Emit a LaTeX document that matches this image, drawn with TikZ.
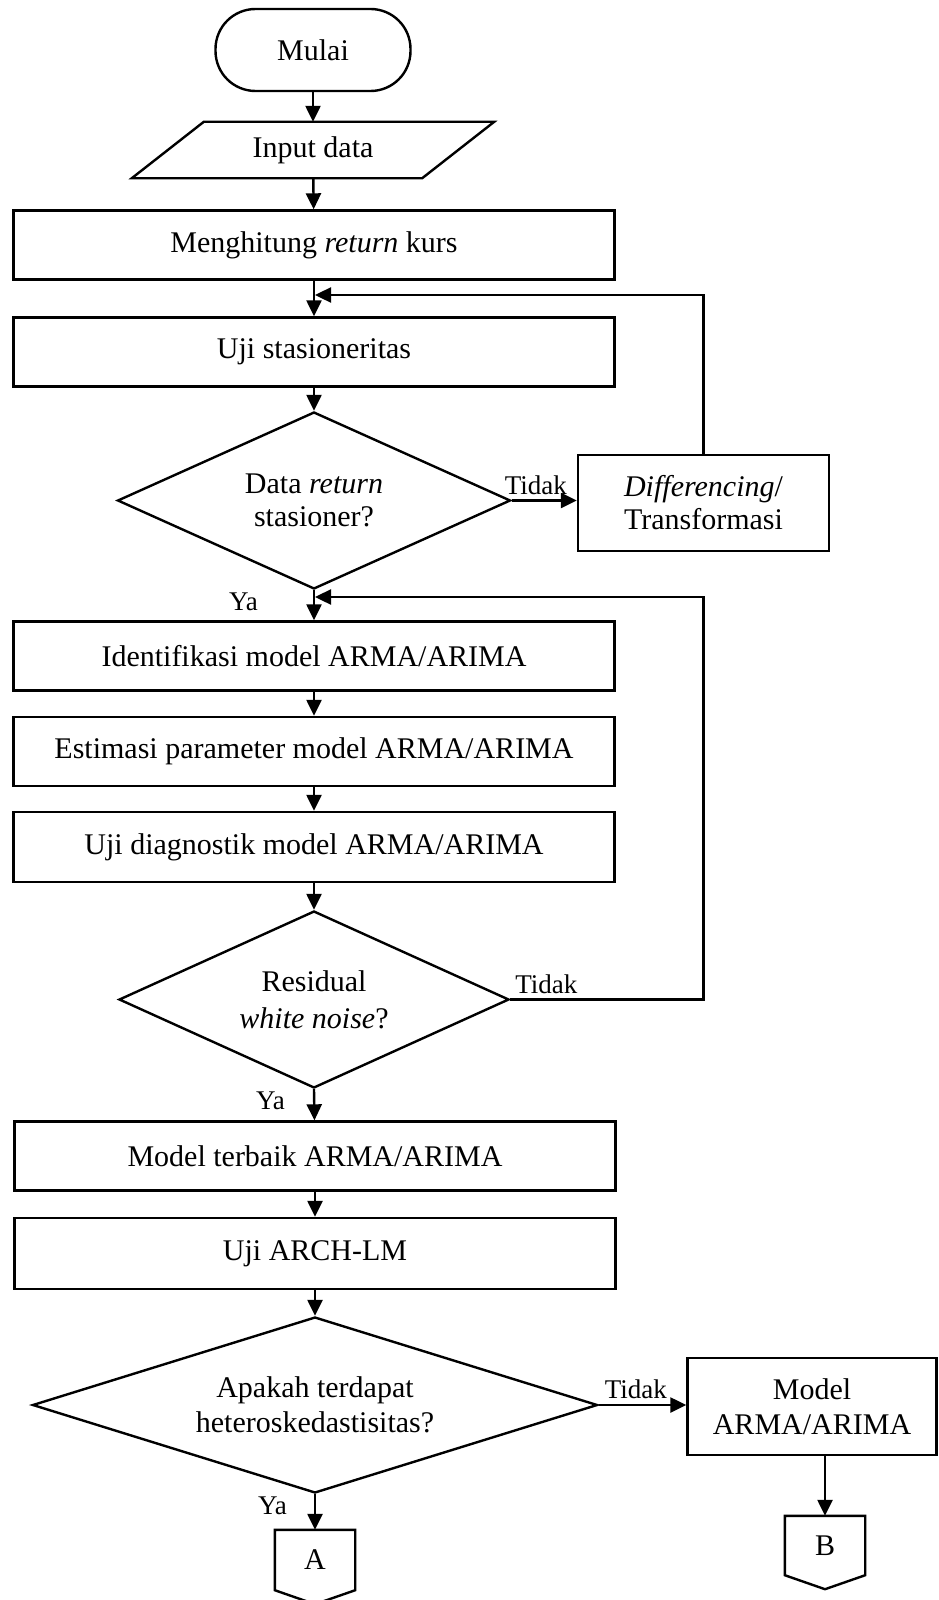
\documentclass[tikz,border=0pt]{standalone}
\usepackage{fontspec}
\setmainfont{Liberation Serif}
\usetikzlibrary{shapes.geometric,arrows.meta}

\tikzset{
  txt/.style={font=\fontsize{30}{33}\selectfont},
  proc/.style={txt, draw, line width=2.4pt, minimum width=601pt, minimum height=69pt, inner sep=0pt, align=center},
  decision/.style={txt, draw, diamond, line width=2.4pt, inner sep=0pt, align=center, shape aspect=2.2},
  flow/.style={line width=2.4pt, -{Triangle[length=16pt,width=15pt]}},
  lbl/.style={font=\fontsize{27}{30}\selectfont, inner sep=1pt},
}

\begin{document}
\begin{tikzpicture}[x=1pt,y=-1pt]
\useasboundingbox (0,0) rectangle (938,1600);

% main column
\node[txt, draw, line width=2.4pt, rounded corners=40pt, minimum width=195pt, minimum height=82pt] (mulai) at (313,50) {Mulai};
\node[txt, minimum width=290pt, minimum height=56pt, inner sep=0pt] (input) at (313,150) {Input data};
\draw[line width=2.4pt] ([xshift=36pt]input.north west) -- ([xshift=36pt]input.north east)
  -- ([xshift=-36pt]input.south east) -- ([xshift=-36pt]input.south west) -- cycle;
\node[proc] (hitung) at (314,245) {Menghitung \textit{return} kurs};
\node[proc] (uji) at (314,352) {Uji stasioneritas};
\node[decision, minimum width=393pt, minimum height=177pt] (stasioner) at (314,500.5) {Data \textit{return}\\stasioner?};
\node[proc, minimum width=251pt, minimum height=96pt] (diff) at (703.5,503) {\textit{Differencing}/\\Transformasi};
\node[proc] (ident) at (314,656) {Identifikasi model ARMA/ARIMA};
\node[proc] (estim) at (314,751.5) {Estimasi parameter model ARMA/ARIMA};
\node[proc, minimum height=70pt] (diag) at (314,847) {Uji diagnostik model ARMA/ARIMA};
\node[decision, minimum width=390pt, minimum height=177pt] (wn) at (314,999.5) {Residual\\[4pt]\textit{white noise}?};
\node[proc] (terbaik) at (315,1156) {Model terbaik ARMA/ARIMA};
\node[proc, minimum height=71pt] (arch) at (315,1253.5) {Uji ARCH-LM};
\node[decision, shape aspect=3.2, minimum width=565pt, minimum height=176pt] (hetero) at (315,1405) {Apakah terdapat\\[2pt]heteroskedastisitas?};
\node[proc, minimum width=249pt, minimum height=97pt] (model) at (812,1406.5) {Model\\[2pt]ARMA/ARIMA};

% off-page connectors
\node[txt, minimum width=80pt, minimum height=60pt, inner sep=0pt] (conA) at (315,1560) {A};
\draw[line width=2.4pt] (conA.north west) -- (conA.north east) -- (conA.south east)
  -- ([yshift=-14pt]conA.south) -- (conA.south west) -- cycle;
\node[txt, minimum width=80pt, minimum height=59pt, inner sep=0pt] (conB) at (825,1545.5) {B};
\draw[line width=2.4pt] (conB.north west) -- (conB.north east) -- (conB.south east)
  -- ([yshift=-14pt]conB.south) -- (conB.south west) -- cycle;

\coordinate (fb1) at (315,295);
\coordinate (fb2) at (315,597);

% arrows
\draw[flow] (mulai) -- (input);
\draw[flow] (input) -- (hitung);
\draw[flow] (hitung) -- (uji);
\draw[flow] (uji) -- (stasioner);
\draw[flow] (stasioner.east) -- node[lbl, pos=0, above right, xshift=-9pt, yshift=4pt]{Tidak} (stasioner.east -| diff.west);
\draw[flow] (diff.north) |- (fb1);
\draw[flow] (stasioner.south) -- node[lbl, pos=0, below left, xshift=-54pt]{Ya} (ident);
\draw[flow] (ident) -- (estim);
\draw[flow] (estim) -- (diag);
\draw[flow] (diag) -- (wn);
\draw[flow] (wn.east) -- node[lbl, pos=0, above right, xshift=3pt, yshift=4pt]{Tidak} (wn.east -| diff.north) |- (fb2);
\draw[flow] (wn.south) -- node[lbl, pos=0, below left, xshift=-27pt]{Ya} (terbaik);
\draw[flow] (terbaik) -- (arch);
\draw[flow] (arch) -- (hetero);
\draw[flow] (hetero.east) -- node[lbl, pos=0, above right, xshift=4pt, yshift=4pt]{Tidak} (hetero.east -| model.west);
\draw[flow] (hetero.south) -- node[lbl, pos=0, below left, xshift=-26pt]{Ya} (conA.north);
\draw[flow] (conB.north |- model.south) -- (conB.north);
\end{tikzpicture}
\end{document}
